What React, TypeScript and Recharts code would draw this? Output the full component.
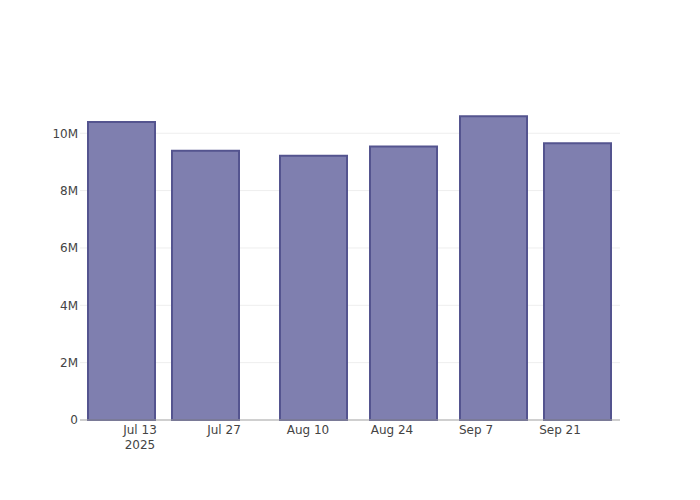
import { ComposedChart, Bar, XAxis, YAxis, CartesianGrid } from "recharts"

const dates = ["2025-07-10", "2025-07-24", "2025-08-11", "2025-08-26", "2025-09-10", "2025-09-24"]
const values = [10390000, 9390000, 9220000, 9540000, 10590000, 9650000]
const tickDates = ["2025-07-13", "2025-07-27", "2025-08-10", "2025-08-24", "2025-09-07", "2025-09-21"]
const yTicks = [0, 2000000, 4000000, 6000000, 8000000, 10000000]
const gridValues = [2000000, 4000000, 6000000, 8000000, 10000000]
const months = ["Jan", "Feb", "Mar", "Apr", "May", "Jun", "Jul", "Aug", "Sep", "Oct", "Nov", "Dec"]

const toMs = (s: string) => new Date(s + "T00:00:00Z").getTime()

const data = dates.map((d, i) => ({ date: toMs(d), value: values[i] }))
const xTicks = tickDates.map(toMs)
const xDomain = [toMs("2025-07-03"), toMs("2025-10-01")]

const font = '"DejaVu Sans", sans-serif'

function DateTick(props: any) {
  const { x, y, payload, index } = props
  const d = new Date(payload.value)
  const label = `${months[d.getUTCMonth()]} ${d.getUTCDate()}`
  return (
    <text x={x} y={y} textAnchor="middle" fill="#444" fontSize={12} fontFamily={font}>
      <tspan x={x} dy="0.71em">{label}</tspan>
      {index === 0 && <tspan x={x} dy="1.3em">{d.getUTCFullYear()}</tspan>}
    </text>
  )
}

const fmtY = (v: number) => (v === 0 ? "0" : `${v / 1000000}M`)

export default function App() {
  return (
    <div style={{ position: "absolute", left: 0, top: 0, width: 700, height: 500, background: "#fff" }}>
      <ComposedChart width={700} height={500} data={data} margin={{ top: 100, right: 80, bottom: 50, left: 40 }}>
        <CartesianGrid horizontal vertical={false} stroke="#eee" horizontalValues={gridValues} />
        <XAxis
          dataKey="date"
          type="number"
          scale="time"
          domain={xDomain}
          ticks={xTicks}
          interval={0}
          tick={<DateTick />}
          tickLine={false}
          tickSize={0}
          tickMargin={5}
          height={30}
          axisLine={{ stroke: "#a0a0a0" }}
          allowDataOverflow
        />
        <YAxis
          type="number"
          domain={[0, 11160000]}
          ticks={yTicks}
          interval={0}
          tickFormatter={fmtY}
          axisLine={false}
          tickLine={false}
          tickSize={0}
          tickMargin={2}
          width={40}
          tick={{ fill: "#444", fontSize: 12, fontFamily: font }}
        />
        <Bar
          dataKey="value"
          fill="#7f7faf"
          stroke="#54548f"
          strokeWidth={2}
          barSize={67}
          isAnimationActive={false}
        />
      </ComposedChart>
    </div>
  )
}
